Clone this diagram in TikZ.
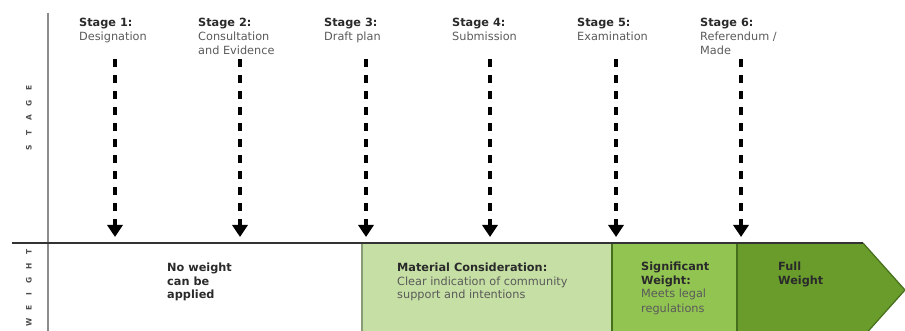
\documentclass[tikz,border=0pt]{standalone}
\usepackage{fontspec}
\setmainfont{DejaVu Sans}
\usetikzlibrary{arrows.meta}
\definecolor{lightg}{HTML}{C5DFA4}
\definecolor{midg}{HTML}{92C452}
\definecolor{darkg}{HTML}{6A9C2C}
\definecolor{edgeg}{HTML}{456F1C}
\definecolor{labc}{HTML}{2A2A2A}
\definecolor{descc}{HTML}{5A5A5A}
\newcommand\lsp[2]{\makebox[#1]{#2}}
\begin{document}
\begin{tikzpicture}[x=1pt,y=-1pt,
  txt/.style={inner sep=0pt, anchor=base west, font=\fontsize{11.3}{14}\selectfont, text=labc},
  axislab/.style={inner sep=0pt, rotate=90, font=\fontsize{7.5}{9}\selectfont\bfseries, text=black!70},
  stagearrow/.style={line width=3.8pt, dash pattern=on 8pt off 8pt, -{Triangle[width=15pt,length=12pt]}, black},
  seg/.style={draw=edgeg, line width=1.2pt}]
\useasboundingbox (0,0) rectangle (905,331);
\clip (0,0) rectangle (905,331);
% weight band
\fill[lightg] (362,243) rectangle (612,340);
\fill[midg] (612,243) rectangle (737,340);
\fill[darkg] (737,243) -- (863,243) -- (905,290) -- (863,337) -- (737,337) -- cycle;
\draw[edgeg, line width=1.2pt] (863,243) -- (905,290) -- (863,337);
\draw[edgeg!80!black!60, line width=1.2pt] (362,243) -- (362,340);
\draw[seg] (612,243) -- (612,340);
\draw[seg] (737,243) -- (737,340);
% axes
\draw[black!45, line width=1.8pt] (48,13) -- (48,331);
\draw[black!80, line width=1.4pt] (12,243) -- (863,243);
% axis labels
\node[axislab] (stagelab) at (29,118) {\lsp{15pt}{S}\lsp{15pt}{T}\lsp{15pt}{A}\lsp{15pt}{G}\lsp{15pt}{E}};
\node[axislab] (weightlab) at (29,287) {\lsp{14pt}{W}\lsp{14pt}{E}\lsp{14pt}{I}\lsp{14pt}{G}\lsp{14pt}{H}\lsp{14pt}{T}};
% stage labels
\node[txt] (s1) at (79,27) {\begin{tabular}[t]{@{}l@{}}\textbf{Stage 1:}\\\textcolor{descc}{Designation}\end{tabular}};
\node[txt] (s2) at (198,27) {\begin{tabular}[t]{@{}l@{}}\textbf{Stage 2:}\\\textcolor{descc}{Consultation}\\\textcolor{descc}{and Evidence}\end{tabular}};
\node[txt] (s3) at (324,27) {\begin{tabular}[t]{@{}l@{}}\textbf{Stage 3:}\\\textcolor{descc}{Draft plan}\end{tabular}};
\node[txt] (s4) at (452,27) {\begin{tabular}[t]{@{}l@{}}\textbf{Stage 4:}\\\textcolor{descc}{Submission}\end{tabular}};
\node[txt] (s5) at (577,27) {\begin{tabular}[t]{@{}l@{}}\textbf{Stage 5:}\\\textcolor{descc}{Examination}\end{tabular}};
\node[txt] (s6) at (700,27) {\begin{tabular}[t]{@{}l@{}}\textbf{Stage 6:}\\\textcolor{descc}{Referendum /}\\\textcolor{descc}{Made}\end{tabular}};
% stage arrows
\foreach \i/\x in {1/115,2/240,3/366,4/490,5/616,6/741}{
  \coordinate (a\i) at (\x,59);
  \coordinate (b\i) at (\x,237);
  \draw[stagearrow] (a\i) -- (b\i);
}
% weight labels
\node[txt] (w1) at (167,271) {\begin{tabular}[t]{@{}l@{}}\textbf{No weight}\\\textbf{can be}\\\textbf{applied}\end{tabular}};
\node[txt] (w2) at (397,271) {\begin{tabular}[t]{@{}l@{}}\textbf{Material Consideration:}\\\textcolor{descc}{Clear indication of community}\\\textcolor{descc}{support and intentions}\end{tabular}};
\node[txt] (w3) at (641,270) {\begin{tabular}[t]{@{}l@{}}\textbf{Significant}\\\textbf{Weight:}\\\textcolor{descc}{Meets legal}\\\textcolor{descc}{regulations}\end{tabular}};
\node[txt] (w4) at (778,270) {\begin{tabular}[t]{@{}l@{}}\textbf{Full}\\\textbf{Weight}\end{tabular}};
\end{tikzpicture}
\end{document}
